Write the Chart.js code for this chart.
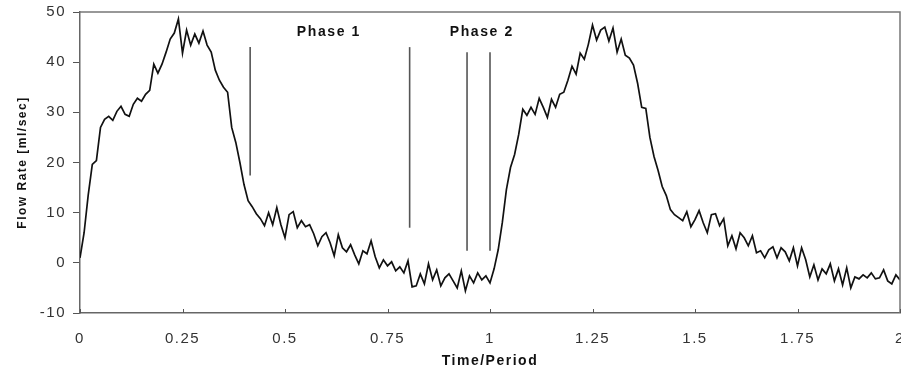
<!DOCTYPE html>
<html>
<head>
<meta charset="utf-8">
<script src="https://cdn.jsdelivr.net/npm/chart.js@4/dist/chart.umd.min.js"></script>
<style>
  html, body { margin: 0; padding: 0; background: #fff; }
  #wrap { width: 901px; height: 373px; }
</style>
</head>
<body>
<div id="wrap"><canvas id="chart" width="901" height="373"></canvas></div>
<script>
// time / period, sampled every 0.01
const timeStart = 0;
const timeStep = 0.01;
// flow rate [ml/sec]
const flowRate = [
  1.0, 6.0, 13.5, 19.6, 20.4, 27.0, 28.6, 29.2, 28.4, 30.2,
  31.2, 29.6, 29.2, 31.6, 32.8, 32.2, 33.6, 34.4, 39.6, 37.8,
  39.6, 42.0, 44.6, 45.8, 48.6, 41.8, 46.4, 43.4, 45.6, 43.8,
  46.2, 43.4, 42.0, 38.4, 36.4, 35.0, 34.0, 27.0, 24.0, 20.0,
  15.6, 12.4, 11.2, 9.8, 8.8, 7.4, 10.0, 7.6, 11.0, 7.6,
  5.0, 9.6, 10.2, 7.0, 8.4, 7.2, 7.6, 5.8, 3.4, 5.2,
  6.0, 4.0, 1.4, 5.6, 3.0, 2.2, 3.6, 1.6, -0.2, 2.4,
  1.8, 4.4, 1.2, -1.0, 0.6, -0.6, 0.2, -1.6, -0.8, -2.0,
  0.4, -4.8, -4.6, -2.2, -4.2, -0.2, -3.4, -1.4, -4.6, -3.0,
  -2.2, -3.6, -5.0, -1.6, -5.6, -2.6, -4.0, -2.0, -3.4, -2.6,
  -4.0, -1.2, 2.6, 8.0, 14.6, 19.0, 21.6, 25.6, 30.6, 29.4,
  31.0, 29.6, 32.8, 31.0, 29.0, 32.6, 31.0, 33.6, 34.0, 36.4,
  39.2, 37.6, 41.8, 40.6, 43.6, 47.4, 44.4, 46.4, 47.0, 44.2,
  46.8, 42.0, 44.6, 41.4, 40.8, 39.4, 35.8, 31.0, 30.8, 25.0,
  21.2, 18.4, 15.2, 13.4, 10.6, 9.6, 9.0, 8.4, 10.2, 7.2,
  8.6, 10.4, 8.0, 6.0, 9.6, 9.8, 7.4, 8.8, 3.4, 5.4,
  2.8, 6.0, 5.0, 3.4, 5.4, 2.0, 2.4, 1.0, 2.6, 3.2,
  1.0, 3.0, 2.2, 0.4, 3.0, -0.6, 3.0, 0.6, -2.8, -0.4,
  -3.4, -1.2, -2.2, -0.2, -3.6, -1.2, -4.4, -1.0, -5.0, -2.8,
  -3.2, -2.4, -3.0, -2.0, -3.2, -3.0, -1.4, -3.6, -4.2, -2.4,
  -3.4
];

// vertical phase markers
const markerTimes = [0.415, 0.804, 0.944, 1.0];
const markerTops = [43, 43, 42, 42];
const markerBottoms = [17.4, 7, 2.4, 2.4];

// phase labels, placed in data units
const phaseLabels = ["Phase 1", "Phase 2"];
const phaseLabelTimes = [0.607, 0.98];
const phaseLabelValue = 46;

const xTicks = [0, 0.25, 0.5, 0.75, 1, 1.25, 1.5, 1.75, 2];

const flowPoints = flowRate.map((v, i) => ({ x: +(timeStart + i * timeStep).toFixed(2), y: v }));

const markerSets = markerTimes.map((t, i) => ({
  data: [{ x: t, y: markerBottoms[i] }, { x: t, y: markerTops[i] }],
  borderColor: "#555",
  borderWidth: 1.6,
  pointRadius: 0,
  tension: 0
}));

const FONT = "'Liberation Sans', Arial, sans-serif";

// the source picture is stretched sideways, so text gets some extra spacing
const spacing = {
  id: "spacing",
  beforeDraw(chart) { chart.ctx.letterSpacing = "1.5px"; },
  afterDraw(chart) { chart.ctx.letterSpacing = "0px"; }
};

const frame = {
  id: "frame",
  afterDraw(chart) {
    const { ctx, chartArea: a, scales } = chart;
    ctx.save();
    ctx.strokeStyle = "#777";
    ctx.lineWidth = 1.5;
    ctx.beginPath();
    ctx.moveTo(a.left, a.top);
    ctx.lineTo(a.right, a.top);
    ctx.lineTo(a.right, a.bottom);
    ctx.stroke();
    // inward ticks on the time axis
    ctx.strokeStyle = "#555";
    ctx.lineWidth = 1;
    xTicks.forEach(t => {
      const px = Math.round(scales.x.getPixelForValue(t)) + 0.5;
      ctx.beginPath();
      ctx.moveTo(px, a.bottom);
      ctx.lineTo(px, a.bottom - 4);
      ctx.stroke();
    });
    // phase labels
    ctx.fillStyle = "#111";
    ctx.font = "bold 14px " + FONT;
    ctx.letterSpacing = "1.6px";
    ctx.textAlign = "center";
    ctx.textBaseline = "middle";
    phaseLabels.forEach((s, i) => {
      ctx.fillText(s, scales.x.getPixelForValue(phaseLabelTimes[i]), scales.y.getPixelForValue(phaseLabelValue));
    });
    ctx.restore();
  }
};

new Chart(document.getElementById("chart"), {
  type: "line",
  data: {
    datasets: [{
      data: flowPoints,
      borderColor: "#111",
      borderWidth: 1.7,
      pointRadius: 0,
      tension: 0
    }].concat(markerSets)
  },
  options: {
    responsive: false,
    animation: false,
    events: [],
    layout: { padding: { top: 12, right: 1, left: 0, bottom: 0 } },
    plugins: { legend: { display: false }, tooltip: { enabled: false } },
    scales: {
      x: {
        type: "linear",
        min: 0,
        max: 2,
        afterBuildTicks(scale) { scale.ticks = xTicks.map(v => ({ value: v })); },
        afterFit(scale) { scale.height = 60; scale.paddingLeft = 0; scale.paddingRight = 0; },
        grid: { display: false, drawTicks: false },
        border: { display: true, color: "#666", width: 1.5 },
        ticks: {
          color: "#333",
          font: { family: FONT, size: 15 },
          padding: 17,
          maxRotation: 0,
          autoSkip: false,
          callback: v => String(v)
        },
        title: {
          display: true,
          text: "Time/Period",
          color: "#111",
          font: { family: FONT, size: 14, weight: "bold" },
          padding: { top: 0, bottom: 3 }
        }
      },
      y: {
        min: -10,
        max: 50,
        afterFit(scale) { scale.width = 80; scale.paddingTop = 0; scale.paddingBottom = 0; },
        grid: { display: true, drawOnChartArea: false, drawTicks: true, tickLength: 7, color: "#555" },
        border: { display: true, color: "#666", width: 1.5 },
        ticks: {
          stepSize: 10,
          color: "#333",
          font: { family: FONT, size: 15 },
          padding: 7,
          callback: v => String(v)
        },
        title: {
          display: true,
          text: "Flow Rate [ml/sec]",
          color: "#111",
          font: { family: FONT, size: 12, weight: "bold" },
          padding: { top: 15, bottom: 0 }
        }
      }
    }
  },
  plugins: [spacing, frame]
});
</script>
</body>
</html>
